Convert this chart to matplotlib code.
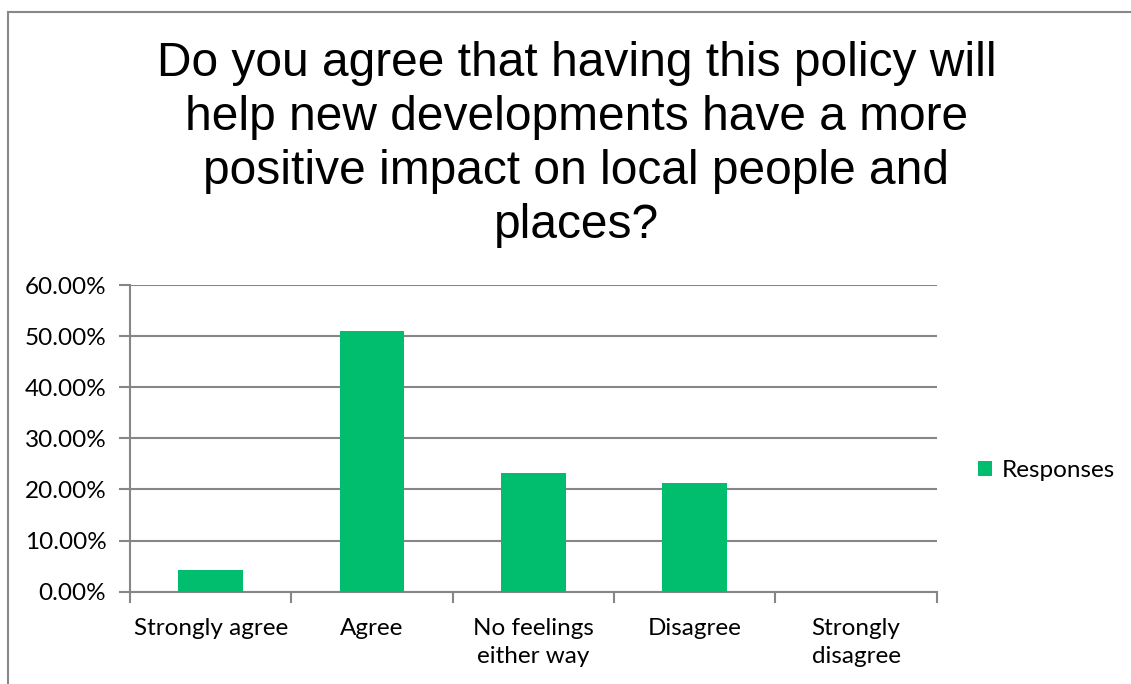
import matplotlib.pyplot as plt
import numpy as np
from matplotlib.ticker import FuncFormatter, FixedLocator
from matplotlib.lines import Line2D

# Survey results
categories = ['Strongly agree', 'Agree', 'No feelings\neither way', 'Disagree', 'Strongly\ndisagree']
responses = [4.2, 51.0, 23.3, 21.2, 0.0]  # percent
series_name = 'Responses'
title = ('Do you agree that having this policy will\n'
         'help new developments have a more\n'
         'positive impact on local people and\n'
         'places?')

BAR_COLOR = '#00BE6E'
GRID_COLOR = '#868686'
LABEL_SIZE = 17.5

fig = plt.figure(figsize=(11.31, 6.84), dpi=100)
ax = fig.add_axes([0.1149, 0.1349, 0.7133, 0.4484])

x = np.arange(len(categories))
ax.bar(x, responses, width=0.4, color=BAR_COLOR, zorder=3, label=series_name)

ax.set_xlim(-0.5, len(categories) - 0.5)
ax.set_ylim(0, 60)
ax.set_yticks(np.arange(0, 61, 10))
ax.yaxis.set_major_formatter(FuncFormatter(lambda v, p: f'{v:.2f}%'))
ax.grid(axis='y', color=GRID_COLOR, linewidth=1.5, zorder=0)

# category labels at centres, tick marks at boundaries
ax.set_xticks(x)
ax.set_xticklabels(categories, fontfamily='Lato', fontsize=LABEL_SIZE, linespacing=1.4)
ax.xaxis.set_minor_locator(FixedLocator(np.arange(-0.5, len(categories), 1)))
ax.tick_params(axis='x', which='major', length=0, pad=19)
ax.tick_params(axis='x', which='minor', length=8, width=1.5, color=GRID_COLOR, direction='out')
ax.tick_params(axis='y', length=8, width=1.5, color=GRID_COLOR, direction='out', pad=9,
               labelsize=LABEL_SIZE)
for lbl in ax.get_yticklabels():
    lbl.set_fontfamily('Lato')

for side in ['top', 'right']:
    ax.spines[side].set_visible(False)
for side in ['left', 'bottom']:
    ax.spines[side].set_color(GRID_COLOR)
    ax.spines[side].set_linewidth(1.5)

fig.text(0.5097, 0.94, title, ha='center', va='top', fontsize=34.5,
         fontfamily='Liberation Sans', linespacing=1.26)

leg = fig.legend(loc='center left', bbox_to_anchor=(0.845, 0.312), frameon=False,
                 handlelength=0.6, handleheight=0.6, handletextpad=0.4,
                 prop={'family': 'Lato', 'size': LABEL_SIZE})

# chart-area border (top and left edges)
fig.add_artist(Line2D([0.007, 1.0], [1 - 12 / 684] * 2, color='#888888', linewidth=1.5,
                      transform=fig.transFigure))
fig.add_artist(Line2D([0.007, 0.007], [0.0, 1 - 12 / 684], color='#888888', linewidth=1.5,
                      transform=fig.transFigure))

fig.savefig('out.png', dpi=100)
